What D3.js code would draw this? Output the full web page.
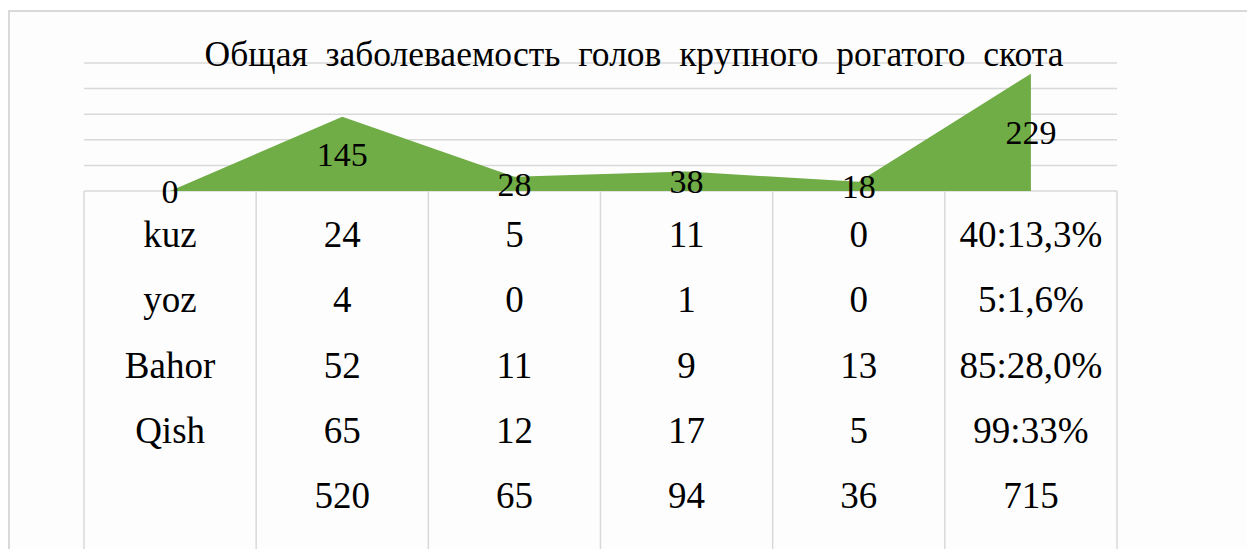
<!DOCTYPE html>
<html>
<head>
<meta charset="utf-8">
<script src="https://cdn.jsdelivr.net/npm/d3@7"></script>
<style>
  body { margin: 0; background: #fff; }
  text { font-family: "Liberation Serif", "Times New Roman", serif; fill: #000; }
</style>
</head>
<body>
<script>
// data
const title = "Общая  заболеваемость  голов  крупного  рогатого  скота"
const points = [0, 145, 28, 38, 18, 229]
const rowLabels = ["kuz", "yoz", "Bahor", "Qish", ""]
const col1 = [24, 4, 52, 65, 520]
const col2 = [5, 0, 11, 12, 65]
const col3 = [11, 1, 9, 17, 94]
const col4 = [0, 0, 13, 5, 36]
const col5 = ["40:13,3%", "5:1,6%", "85:28,0%", "99:33%", "715"]
const yTicks = [0, 50, 100, 150, 200, 250]

const W = 1247, H = 549

const svg = d3.select("body").append("svg")
  .attr("width", W)
  .attr("height", H)

// outer frame
svg.append("rect")
  .attr("x", 9).attr("y", 11)
  .attr("width", W + 20).attr("height", H + 20)
  .attr("fill", "#fdfdfd")
  .attr("stroke", "#d9d9d9")
  .attr("stroke-width", 2)

// scales
const x = d3.scaleBand().domain(d3.range(points.length)).range([84, 1117]).padding(0)
const cx = i => x(i) + x.bandwidth() / 2
const y = d3.scaleLinear().domain([0, 250]).range([191, 63])
const row = d3.scaleLinear().domain([0, 1]).range([247, 312.3])

// gridlines
svg.append("g")
  .selectAll("line")
  .data(yTicks.slice(1))
  .join("line")
  .attr("x1", 84).attr("x2", 1117)
  .attr("y1", d => y(d)).attr("y2", d => y(d))
  .attr("stroke", "#d9d9d9")
  .attr("stroke-width", 1.5)

// table lines
const tbl = svg.append("g")
tbl.append("line")
  .attr("x1", 84).attr("x2", 1117)
  .attr("y1", y(0)).attr("y2", y(0))
  .attr("stroke", "#d9d9d9").attr("stroke-width", 1.5)
tbl.selectAll("line.v")
  .data(d3.range(points.length + 1))
  .join("line")
  .attr("class", "v")
  .attr("x1", i => i < points.length ? x(i) : x(i - 1) + x.bandwidth())
  .attr("x2", i => i < points.length ? x(i) : x(i - 1) + x.bandwidth())
  .attr("y1", y(0)).attr("y2", H + 5)
  .attr("stroke", "#d9d9d9").attr("stroke-width", 1.5)

// area
const area = d3.area()
  .x((d, i) => cx(i))
  .y0(y(0))
  .y1(d => y(d))

svg.append("path")
  .datum(points)
  .attr("d", area)
  .attr("fill", "#70ad47")

// title
svg.append("text")
  .attr("x", 634)
  .attr("y", 66)
  .attr("text-anchor", "middle")
  .attr("font-size", 35.5)
  .attr("xml:space", "preserve")
  .style("white-space", "pre")
  .text(title)

// data labels
svg.append("g")
  .selectAll("text")
  .data(points)
  .join("text")
  .attr("x", (d, i) => cx(i))
  .attr("y", d => y(d / 2))
  .attr("dy", "0.35em")
  .attr("text-anchor", "middle")
  .attr("font-size", 34)
  .text(d => d)

// table text
const cols = [rowLabels, col1, col2, col3, col4, col5]
cols.forEach(function(col, c) {
  svg.append("g")
    .selectAll("text")
    .data(col)
    .join("text")
    .attr("x", cx(c))
    .attr("y", (d, r) => row(r))
    .attr("text-anchor", "middle")
    .attr("font-size", 37)
    .text(d => d)
})
</script>
</body>
</html>
